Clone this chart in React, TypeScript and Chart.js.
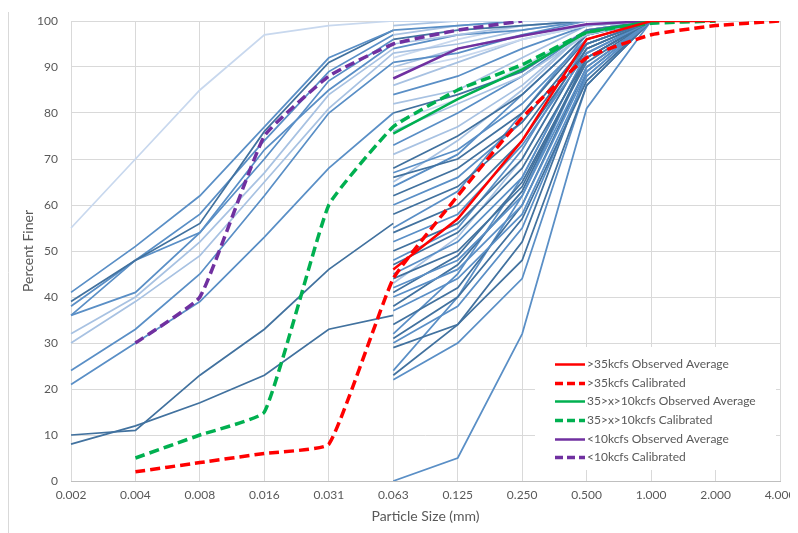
import React, { useEffect, useRef } from "react";
import { Chart, registerables } from "chart.js";

Chart.register(...registerables);

// ---------- data ----------
const sizeLabels = ["0.002", "0.004", "0.008", "0.016", "0.031", "0.063", "0.125", "0.250", "0.500", "1.000", "2.000", "4.000"];

// hydrometer samples: values at 0.002 .. 0.063
const finesSamples: number[][] = [
  [55, 70, 85, 97, 99, 100],
  [41, 51, 62, 77, 92, 98],
  [39, 48, 56, 76, 91, 98],
  [38, 48, 58, 74, 89, 97],
  [36, 48, 54, 70, 87, 96],
  [36, 41, 54, 72, 85, 95],
  [32, 40, 52, 67, 84, 94],
  [30, 39, 49, 65, 81, 93],
  [24, 33, 45, 62, 80, 91],
  [21, 30, 39, 53, 68, 80],
  [10, 11, 23, 33, 46, 56],
  [8, 12, 17, 23, 33, 36],
];
const finesShades = ["P", "M", "D", "M", "M", "M", "L", "L", "M", "M", "D", "D"];

// sieve samples: values at 0.063 .. 1.000
const sandSamples: number[][] = [
  [100, 100, 100, 100, 100],
  [99, 100, 100, 100, 100],
  [98, 99, 100, 100, 100],
  [97, 99, 100, 100, 100],
  [96, 98, 99, 100, 100],
  [95, 97, 99, 100, 100],
  [94, 97, 98, 100, 100],
  [93, 95, 98, 100, 100],
  [92, 96, 99, 100, 100],
  [91, 93, 97, 100, 100],
  [90, 94, 97, 99, 100],
  [89, 92, 96, 99, 100],
  [86, 91, 96, 99, 100],
  [84, 88, 94, 99, 100],
  [82, 85, 92, 99, 100],
  [80, 84, 89, 98, 100],
  [78, 83, 90, 98, 100],
  [76, 82, 88, 97, 100],
  [73, 80, 88, 98, 100],
  [71, 77, 86, 98, 100],
  [68, 75, 84, 97, 100],
  [67, 72, 82, 96, 100],
  [66, 70, 80, 96, 100],
  [65, 74, 85, 98, 100],
  [64, 71, 84, 97, 100],
  [62, 68, 78, 95, 100],
  [60, 66, 78, 95, 100],
  [58, 64, 76, 95, 100],
  [55, 63, 80, 97, 100],
  [54, 60, 74, 94, 100],
  [52, 58, 73, 93, 100],
  [50, 56, 70, 94, 100],
  [48, 55, 72, 95, 100],
  [47, 54, 68, 92, 100],
  [45, 52, 66, 93, 100],
  [44, 50, 64, 92, 100],
  [43, 53, 70, 94, 100],
  [42, 48, 62, 90, 100],
  [41, 49, 65, 91, 100],
  [40, 46, 60, 89, 100],
  [38, 47, 63, 92, 100],
  [37, 44, 58, 88, 100],
  [34, 42, 60, 90, 100],
  [32, 45, 66, 93, 100],
  [31, 40, 57, 87, 100],
  [30, 38, 55, 88, 100],
  [29, 34, 48, 86, 100],
  [24, 40, 62, 92, 100],
  [23, 34, 52, 89, 100],
  [22, 30, 44, 86, 100],
  [0, 5, 32, 81, 100],
];
const sandShades = [
  "P", "L", "M", "L", "D", "L", "M", "L", "P", "M", "L", "P", "L", "M", "L", "D", "P", "L", "M", "L",
  "D", "M", "D", "L", "M", "D", "M", "D", "M", "D", "M", "D", "M", "D", "M", "D", "L", "M", "D", "M",
  "D", "M", "D", "M", "D", "M", "D", "M", "D", "M", "M",
];

const N = null;
const highObserved = [N, N, N, N, N, 46, 57, 74, 96, 100, 100];
const highCalibrated = [N, 2, 4, 6, 8, 44, 62, 79, 92, 97, 99, 100];
const midObserved = [N, N, N, N, N, 75.5, 83, 89.5, 97.5, 100];
const midCalibrated = [N, 5, 10, 15, 60, 77, 85, 90.5, 97.5, 99.5, 100];
const lowObserved = [N, N, N, N, N, 87.5, 94, 96.8, 99.3, 100];
const lowCalibrated = [N, 30, 40, 75, 88, 95, 98, 100];

const seriesLabels = [
  ">35kcfs Observed Average",
  ">35kcfs Calibrated",
  "35>x>10kcfs Observed Average",
  "35>x>10kcfs Calibrated",
  "<10kcfs Observed Average",
  "<10kcfs Calibrated",
];

// ---------- styles ----------
const SHADE: Record<string, string> = {
  D: "#42729f",
  M: "#5a8fc6",
  L: "#a8c2e2",
  P: "#c8d8ee",
};
const RED = "#ff0000";
const GREEN = "#00b050";
const PURPLE = "#7030a0";
const FONT = "Lato, 'Liberation Sans', sans-serif";
const TEXT = "#595959";
const GRID = "#d9d9d9";

const pad = (vals: number[], start: number) => {
  const out: (number | null)[] = new Array(sizeLabels.length).fill(null);
  vals.forEach((v, i) => (out[start + i] = v));
  return out;
};

const legendPlugin = {
  id: "boxLegend",
  afterDraw(chart: any) {
    const { ctx, chartArea } = chart;
    const items = chart.data.datasets.filter((d: any) => d.label);
    ctx.save();
    ctx.fillStyle = "#ffffff";
    ctx.fillRect(chartArea.left + 464, chartArea.top + 326, 241, 123);
    items.forEach((d: any, i: number) => {
      const y = Math.round(chartArea.top + 343 + i * 18.65) + 0.5;
      ctx.strokeStyle = d.borderColor;
      ctx.lineWidth = d.borderDash && d.borderDash.length ? 3.5 : 2.5;
      ctx.setLineDash(d.borderDash && d.borderDash.length ? [8, 4] : []);
      ctx.beginPath();
      ctx.moveTo(chartArea.left + 484, y);
      ctx.lineTo(chartArea.left + 514, y);
      ctx.stroke();
      ctx.setLineDash([]);
      ctx.fillStyle = TEXT;
      ctx.font = `12px ${FONT}`;
      ctx.textBaseline = "middle";
      ctx.textAlign = "left";
      ctx.fillText(d.label, chartArea.left + 516, y);
    });
    ctx.restore();
  },
};

const framePlugin = {
  id: "frameLine",
  beforeDraw(chart: any) {
    const { ctx, height } = chart;
    ctx.save();
    ctx.strokeStyle = GRID;
    ctx.lineWidth = 1;
    ctx.beginPath();
    ctx.moveTo(0.5, 4);
    ctx.lineTo(0.5, height);
    ctx.stroke();
    ctx.restore();
  },
};

export default function App() {
  const ref = useRef<HTMLCanvasElement | null>(null);

  useEffect(() => {
    if (!ref.current) return;
    const solid = (label: string, color: string, data: any[], order: number) => ({
      label,
      data,
      borderColor: color,
      backgroundColor: color,
      borderWidth: 2.5,
      pointRadius: 0,
      fill: false,
      tension: 0,
      order,
    });
    const dashed = (label: string, color: string, data: any[], order: number) => ({
      label,
      data,
      borderColor: color,
      backgroundColor: color,
      borderWidth: 3.5,
      borderDash: [10, 5],
      pointRadius: 0,
      fill: false,
      tension: 0.12,
      order,
    });

    const colored = [
      solid(seriesLabels[0], RED, highObserved, 1),
      dashed(seriesLabels[1], RED, highCalibrated, 0),
      solid(seriesLabels[2], GREEN, midObserved, 3),
      dashed(seriesLabels[3], GREEN, midCalibrated, 2),
      solid(seriesLabels[4], PURPLE, lowObserved, 5),
      dashed(seriesLabels[5], PURPLE, lowCalibrated, 4),
    ];
    const blueLine = (data: any[], shade: string) => ({
      label: "",
      data,
      borderColor: SHADE[shade],
      borderWidth: 1.75,
      pointRadius: 0,
      fill: false,
      tension: 0,
      order: 10,
    });
    const fines = finesSamples.map((s, i) => blueLine(pad(s, 0), finesShades[i]));
    const sands = sandSamples.map((s, i) => blueLine(pad(s, 5), sandShades[i]));

    const chart = new Chart(ref.current, {
      type: "line",
      data: {
        labels: sizeLabels,
        datasets: [...colored, ...sands, ...fines] as any,
      },
      options: {
        animation: false,
        responsive: false,
        events: [],
        layout: { padding: { left: 0, top: 13, right: 18, bottom: 0 } },
        plugins: {
          legend: { display: false },
          tooltip: { enabled: false },
        },
        scales: {
          x: {
            type: "category",
            offset: false,
            grid: { color: GRID, drawTicks: true, tickLength: 7, tickColor: "rgba(0,0,0,0)", lineWidth: 1 },
            border: { color: "#bfbfbf" },
            ticks: {
              color: TEXT,
              font: { family: FONT, size: 12 },
              padding: 0,
              maxRotation: 0,
              autoSkip: false,
            },
            title: {
              display: true,
              text: "Particle Size (mm)",
              color: TEXT,
              font: { family: FONT, size: 14 },
              padding: { top: 0, bottom: 8 },
            },
            afterFit: (s: any) => {
              s.height = 52;
            },
          },
          y: {
            min: 0,
            max: 100,
            ticks: {
              stepSize: 10,
              color: TEXT,
              font: { family: FONT, size: 12 },
              padding: 0,
            },
            grid: { color: GRID, drawTicks: true, tickLength: 13, tickColor: "rgba(0,0,0,0)" },
            border: { display: false },
            title: {
              display: true,
              text: "Percent Finer",
              color: TEXT,
              font: { family: FONT, size: 14 },
              padding: { top: 12, bottom: 0 },
            },
            afterFit: (s: any) => {
              s.width = 63;
            },
          },
        },
      },
      plugins: [framePlugin, legendPlugin],
    });
    return () => chart.destroy();
  }, []);

  return (
    <div style={{ width: 790, height: 525 }}>
      <canvas ref={ref} width={790} height={525} style={{ display: "block" }} />
    </div>
  );
}
